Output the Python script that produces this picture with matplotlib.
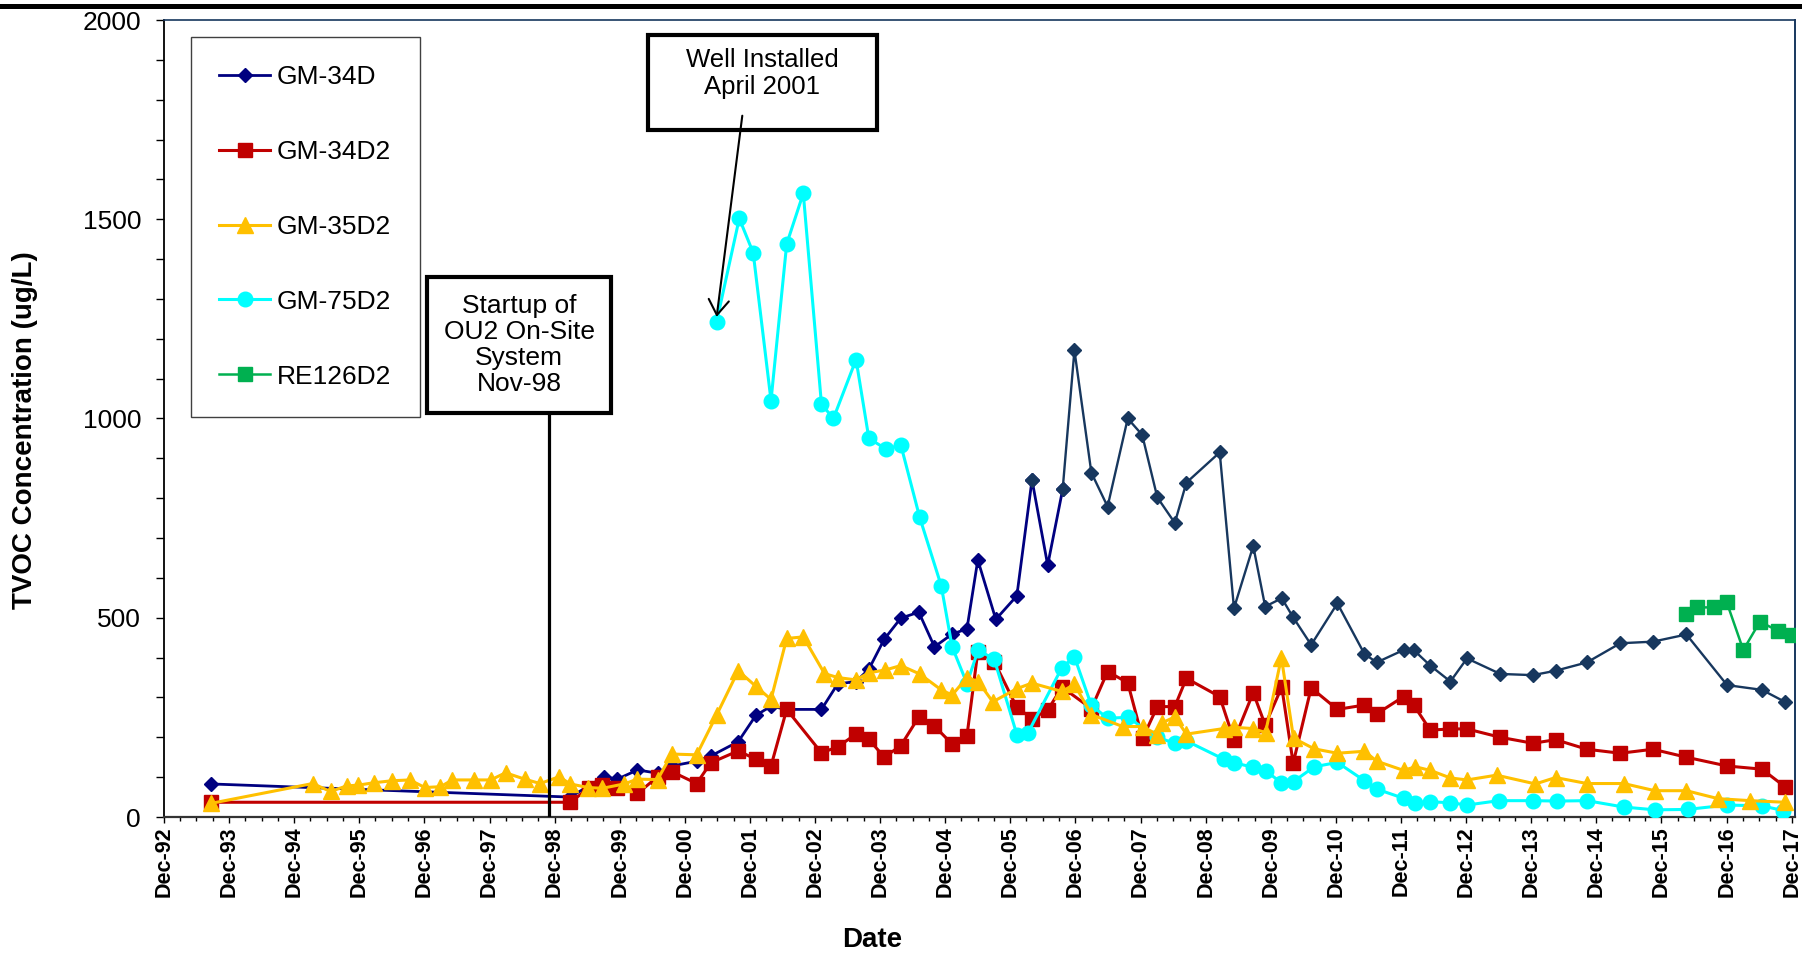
import matplotlib
matplotlib.use('Agg')
import matplotlib.pyplot as plt
import matplotlib.dates as mdates
from matplotlib.lines import Line2D
from matplotlib.patches import Rectangle
from matplotlib.ticker import MultipleLocator
import pandas as pd

plt.rcParams['font.family'] = ['Liberation Sans', 'DejaVu Sans']

# ---------------- data ----------------
gm34d_dates = ['1993-08-19', '1999-02-27', '1999-09-04', '1999-11-18', '2000-03-10', '2000-07-01',
               '2000-09-18', '2001-02-05', '2001-04-25', '2001-09-26', '2002-01-03', '2002-03-29',
               '2002-06-25', '2003-01-06', '2003-04-07', '2003-07-19', '2003-09-29', '2003-12-24',
               '2004-03-26', '2004-07-05', '2004-10-01', '2005-01-08', '2005-04-01', '2005-06-01',
               '2005-09-10', '2006-01-06', '2006-04-01', '2006-06-28', '2006-09-20', '2006-11-25',
               '2007-02-28', '2007-05-30', '2007-09-20', '2007-12-10', '2008-03-04', '2008-06-10',
               '2008-08-14', '2009-02-17', '2009-05-08', '2009-08-24', '2009-10-30', '2010-01-31',
               '2010-04-05', '2010-07-15', '2010-12-09', '2011-05-10', '2011-07-18', '2011-12-15',
               '2012-02-10', '2012-05-13', '2012-09-03', '2012-12-05', '2013-06-10', '2013-12-10',
               '2014-04-16', '2014-10-09', '2015-04-14', '2015-10-14', '2016-04-19', '2016-12-03',
               '2017-06-17', '2017-10-23']
gm34d_vals = [83, 50, 101, 95, 118, 110, 128, 140, 153, 189, 255, 278, 270, 270, 334, 340, 371, 446,
              499, 514, 427, 459, 472, 645, 496, 555, 846, 632, 822, 1171, 864, 779, 1000, 959, 802,
              738, 839, 915, 524, 680, 528, 549, 501, 432, 536, 409, 388, 419, 419, 380, 340, 398,
              359, 356, 367, 388, 436, 440, 458, 331, 319, 289]

gm34d2_dates = ['1993-08-19', '1999-02-27', '1999-06-10', '1999-08-26', '1999-11-18', '2000-03-10',
                '2000-07-01', '2000-09-18', '2001-02-05', '2001-04-25', '2001-09-26', '2002-01-03',
                '2002-03-29', '2002-06-25', '2003-01-06', '2003-04-07', '2003-07-19', '2003-09-29',
                '2003-12-24', '2004-03-26', '2004-07-05', '2004-10-01', '2005-01-08', '2005-04-01',
                '2005-06-01', '2005-09-01', '2006-01-06', '2006-04-01', '2006-06-28', '2006-09-16',
                '2007-02-28', '2007-05-30', '2007-09-20', '2007-12-12', '2008-03-04', '2008-06-10',
                '2008-08-14', '2009-02-17', '2009-05-08', '2009-08-24', '2009-10-30', '2010-01-31',
                '2010-04-05', '2010-07-15', '2010-12-09', '2011-05-10', '2011-07-18', '2011-12-15',
                '2012-02-10', '2012-05-13', '2012-09-03', '2012-12-05', '2013-06-10', '2013-12-10',
                '2014-04-16', '2014-10-09', '2015-04-14', '2015-10-14', '2016-04-19', '2016-12-03',
                '2017-06-17', '2017-10-23']
gm34d2_vals = [37, 37, 72, 80, 74, 59, 101, 114, 84, 136, 166, 145, 128, 270, 161, 176, 208, 195,
               150, 179, 251, 228, 183, 203, 415, 390, 275, 247, 268, 326, 272, 365, 337, 197, 277,
               277, 348, 302, 193, 312, 231, 326, 135, 324, 270, 281, 259, 302, 281, 218, 221, 221,
               200, 185, 194, 170, 160, 170, 150, 128, 120, 76]

gm35d2_dates = ['1993-08-19', '1995-03-15', '1995-06-23', '1995-09-21', '1995-11-26', '1996-02-22',
                '1996-06-03', '1996-09-10', '1996-12-03', '1997-03-01', '1997-05-06', '1997-09-06',
                '1997-12-08', '1998-03-01', '1998-06-16', '1998-09-11', '1998-12-26', '1999-02-27',
                '1999-06-06', '1999-08-26', '1999-12-26', '2000-03-10', '2000-07-01', '2000-09-18',
                '2001-02-05', '2001-05-28', '2001-09-26', '2002-01-03', '2002-03-29', '2002-06-25',
                '2002-09-26', '2003-01-23', '2003-04-07', '2003-07-19', '2003-09-29', '2003-12-31',
                '2004-03-26', '2004-07-10', '2004-11-08', '2005-01-08', '2005-04-01', '2005-06-03',
                '2005-08-24', '2006-01-06', '2006-03-31', '2006-09-16', '2006-11-25', '2007-02-28',
                '2007-08-23', '2007-12-12', '2008-03-04', '2008-04-02', '2008-06-10', '2008-08-14',
                '2009-03-12', '2009-05-10', '2009-08-21', '2009-11-01', '2010-01-29', '2010-04-07',
                '2010-08-01', '2010-12-09', '2011-05-10', '2011-07-18', '2011-12-15', '2012-02-20',
                '2012-05-13', '2012-09-03', '2012-12-05', '2013-05-20', '2013-12-24', '2014-04-16',
                '2014-10-09', '2015-05-03', '2015-10-25', '2016-04-19', '2016-10-14', '2017-04-13',
                '2017-10-23']
gm35d2_vals = [34, 84, 64, 78, 80, 86, 91, 93, 74, 76, 93, 93, 93, 111, 95, 84, 101, 83, 74, 72,
               83, 95, 94, 158, 156, 256, 367, 328, 295, 448, 452, 360, 350, 344, 362, 369, 380,
               359, 319, 306, 350, 340, 289, 322, 336, 315, 333, 257, 227, 227, 207, 237, 251, 208,
               222, 225, 222, 212, 400, 198, 171, 160, 165, 140, 117, 126, 117, 98, 93, 105, 83,
               99, 84, 84, 66, 66, 46, 41, 37]

gm75d2_dates = ['2001-05-28', '2001-10-02', '2001-12-19', '2002-03-29', '2002-06-25', '2002-09-26',
                '2003-01-06', '2003-03-14', '2003-07-19', '2003-09-29', '2004-01-05', '2004-03-26',
                '2004-07-10', '2004-11-08', '2005-01-08', '2005-04-01', '2005-06-03', '2005-09-01',
                '2006-01-06', '2006-03-08', '2006-09-16', '2006-11-25', '2007-02-28', '2007-05-30',
                '2007-09-20', '2008-03-04', '2008-06-10', '2008-08-14', '2009-03-12', '2009-05-10',
                '2009-08-21', '2009-11-01', '2010-01-29', '2010-04-07', '2010-08-01', '2010-12-09',
                '2011-05-10', '2011-07-18', '2011-12-15', '2012-02-20', '2012-05-13', '2012-09-03',
                '2012-12-05', '2013-06-01', '2013-12-10', '2014-04-25', '2014-10-09', '2015-05-03',
                '2015-10-25', '2016-04-25', '2016-12-03', '2017-06-17', '2017-10-15']
gm75d2_vals = [1243, 1502, 1416, 1045, 1438, 1565, 1036, 1000, 1148, 950, 923, 934, 752, 580, 427,
               335, 419, 396, 207, 210, 375, 402, 280, 248, 250, 200, 185, 191, 145, 136, 125, 116,
               86, 89, 126, 137, 91, 70, 47, 36, 38, 36, 30, 41, 41, 40, 41, 25, 18, 19, 30, 28, 16]

re126d2_dates = ['2016-04-16', '2016-06-17', '2016-09-20', '2016-12-01', '2017-03-04', '2017-06-05',
                 '2017-09-16', '2017-12-04']
re126d2_vals = [509, 526, 526, 539, 419, 490, 467, 457]

series_names = ['GM-34D', 'GM-34D2', 'GM-35D2', 'GM-75D2', 'RE126D2']
startup_date = '1998-11-01'
well_installed_date = '2001-05-28'
x_start, x_end = '1992-12-01', '2017-12-19'

# ---------------- style ----------------
NAVY = '#000080'
SLATE = '#17375E'
RED = '#C00000'
AMBER = '#FFC000'
CYAN = '#00FFFF'
GREEN = '#00B050'

W, H = 1802, 955
fig = plt.figure(figsize=(W / 100, H / 100), dpi=100)
ax_l, ax_r, ax_t, ax_b = 164, 1795, 20, 817
ax = fig.add_axes([ax_l / W, 1 - ax_b / H, (ax_r - ax_l) / W, (ax_b - ax_t) / H])

d34 = pd.to_datetime(gm34d_dates)
d34b = pd.to_datetime(gm34d2_dates)
d35 = pd.to_datetime(gm35d2_dates)
d75 = pd.to_datetime(gm75d2_dates)
dre = pd.to_datetime(re126d2_dates)

# GM-34D: older part navy, newer part slate
split = gm34d_dates.index('2006-09-20')
ax.plot(d34[:split + 1], gm34d_vals[:split + 1], color=NAVY, lw=2.0, marker='D', ms=7.5,
        mec=NAVY, mfc=NAVY, zorder=2)
ax.plot(d34[split:], gm34d_vals[split:], color=SLATE, lw=1.7, marker='D', ms=7.5,
        mec=SLATE, mfc=SLATE, zorder=2)
k = gm34d_dates.index('2006-04-01')
ax.plot([d34[k]], [gm34d_vals[k]], ls='none', marker='D', ms=7.5, mec=SLATE, mfc=SLATE, zorder=2)

ax.plot(d34b, gm34d2_vals, color=RED, lw=2.2, marker='s', ms=10, mec=RED, mfc=RED, zorder=3)
ax.plot(d75, gm75d2_vals, color=CYAN, lw=2.2, marker='o', ms=10.5, mec=CYAN, mfc=CYAN, zorder=4)
ax.plot(d35, gm35d2_vals, color=AMBER, lw=2.2, marker='^', ms=11, mec=AMBER, mfc=AMBER, zorder=5)
ax.plot(dre, re126d2_vals, color=GREEN, lw=1.8, marker='s', ms=10.5, mec=GREEN, mfc=GREEN, zorder=5)

ax.set_xlim(pd.Timestamp(x_start), pd.Timestamp(x_end))
ax.set_ylim(0, 2000)

ax.yaxis.set_major_locator(MultipleLocator(500))
ax.yaxis.set_minor_locator(MultipleLocator(100))
ax.xaxis.set_major_locator(mdates.MonthLocator(bymonth=12))
ax.xaxis.set_minor_locator(mdates.MonthLocator(bymonth=[3, 6, 9]))
ax.xaxis.set_major_formatter(mdates.DateFormatter('%b-%y'))

ax.tick_params(axis='y', which='both', direction='out', length=5.5, width=1, pad=11,
               labelsize=19, colors='black')
ax.tick_params(axis='x', which='major', direction='out', length=4.5, width=1, pad=2.5,
               labelsize=15.5, labelrotation=90)
ax.tick_params(axis='x', which='minor', direction='out', length=3, width=1)
for lbl in ax.get_xticklabels():
    lbl.set_fontweight('bold')

ax.spines['left'].set_color('black')
ax.spines['left'].set_linewidth(1.3)
ax.spines['bottom'].set_color('#333333')
ax.spines['bottom'].set_linewidth(1.6)
ax.spines['top'].set_color(SLATE)
ax.spines['top'].set_linewidth(1.2)
ax.spines['right'].set_color(SLATE)
ax.spines['right'].set_linewidth(1.4)

# axis titles
fig.text(872 / W, 1 - 940 / H, 'Date', ha='center', va='center', fontsize=20, fontweight='bold')
fig.text(25 / W, 1 - 430 / H, 'TVOC Concentration (ug/L)', ha='center', va='center',
         rotation=90, fontsize=20, fontweight='bold')

# thick bar at top of figure
fig.add_artist(Line2D([0, 1], [1 - 5.8 / H] * 2, transform=fig.transFigure, color='black', lw=3.6))

# legend
handles = [
    Line2D([], [], color=NAVY, lw=2.0, marker='D', ms=7.5, mec=NAVY, mfc=NAVY),
    Line2D([], [], color=RED, lw=2.2, marker='s', ms=10, mec=RED, mfc=RED),
    Line2D([], [], color=AMBER, lw=2.2, marker='^', ms=11, mec=AMBER, mfc=AMBER),
    Line2D([], [], color=CYAN, lw=2.2, marker='o', ms=10.5, mec=CYAN, mfc=CYAN),
    Line2D([], [], color=GREEN, lw=1.8, marker='s', ms=10.5, mec=GREEN, mfc=GREEN),
]
def ax_frac(px, py):
    return ((px - ax_l) / (ax_r - ax_l), (ax_b - py) / (ax_b - ax_t))

leg = ax.legend(handles, series_names, loc='upper left', bbox_to_anchor=ax_frac(190.6, 36.7),
                borderaxespad=0, fontsize=19, labelspacing=1.93, borderpad=1.07,
                handlelength=1.95, handletextpad=0.25, fancybox=False, framealpha=1,
                edgecolor='#404040')
leg.get_frame().set_linewidth(1.0)
leg.set_zorder(6)

# Startup annotation box + vertical line
x0, y0 = ax_frac(427, 413)
x1, y1 = ax_frac(611, 277)
ax.add_patch(Rectangle((x0, y0), x1 - x0, y1 - y0, transform=ax.transAxes, facecolor='white',
                       edgecolor='black', lw=3, zorder=7))
tx, ty = ax_frac(519, 345.3)
ax.text(tx, ty, 'Startup of\nOU2 On-Site\nSystem\nNov-98', transform=ax.transAxes, ha='center',
        va='center', fontsize=19, linespacing=1.1, zorder=8)
_, ytop = ax_frac(0, 415)
ax.axvline(pd.Timestamp(startup_date), ymin=0, ymax=ytop, color='black', lw=2.3, zorder=6)

# Well installed annotation box + arrow
x0, y0 = ax_frac(648, 129.7)
x1, y1 = ax_frac(877, 35.3)
ax.add_patch(Rectangle((x0, y0), x1 - x0, y1 - y0, transform=ax.transAxes, facecolor='white',
                       edgecolor='black', lw=3, zorder=7))
tx, ty = ax_frac(762.5, 73.8)
ax.text(tx, ty, 'Well Installed\nApril 2001', transform=ax.transAxes, ha='center', va='center',
        fontsize=18.5, linespacing=1.15, zorder=8)
ax.annotate('', xy=(pd.Timestamp(well_installed_date), gm75d2_vals[0] + 12), xycoords='data',
            xytext=ax_frac(742.3, 115.7), textcoords='axes fraction',
            arrowprops=dict(arrowstyle='->,head_length=0.4,head_width=0.27', color='black',
                            lw=1.5, mutation_scale=27, shrinkA=0, shrinkB=0),
            zorder=9)

fig.savefig('out.png', dpi=100)
